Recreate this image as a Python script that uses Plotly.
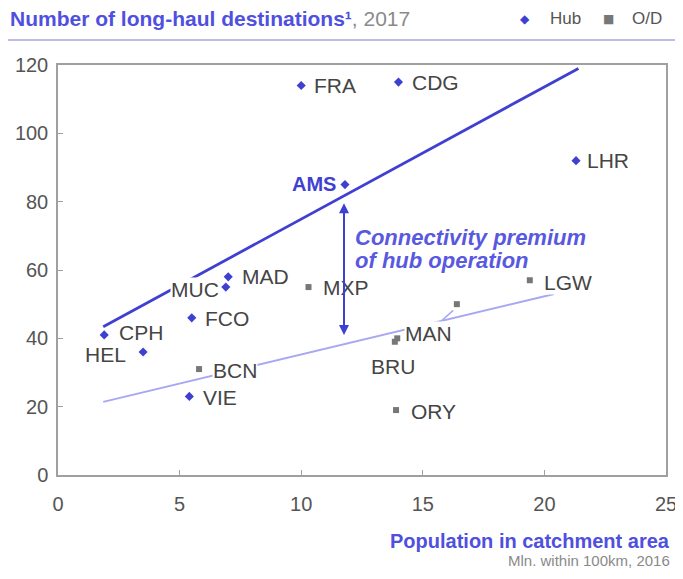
import plotly.graph_objects as go

# ---- data ----
hub_names = ["FRA", "CDG", "LHR", "AMS", "MAD", "MUC", "FCO", "CPH", "HEL", "VIE"]
hub_x = [10.0, 14.0, 21.3, 11.8, 7.0, 6.9, 5.5, 1.9, 3.5, 5.4]
hub_y = [114, 115, 92, 85, 58, 55, 46, 41, 36, 23]

od_names = ["MXP", "BCN", "MAN", "BRU", "", "LGW", "ORY"]
od_x = [10.3, 5.8, 13.95, 13.85, 16.4, 19.4, 13.9]
od_y = [55, 31, 40, 39, 50, 57, 19]

hub_trend_x = [1.86, 21.4]
hub_trend_y = [43.4, 119]
od_trend_x = [1.86, 20.4]
od_trend_y = [21.4, 53]

premium_x = 11.76
premium_top = 80
premium_bottom = 41

legend_labels = ["Hub", "O/D"]

BLUE = "#3f3fd2"
LIGHT = "#a8a8f2"
GRAY_PT = "#777777"
TXT = "#454545"
FONT = "Liberation Sans, Arial, sans-serif"

# page has an 8px body margin; work in page pixels
OFF = 8
PL, PR, PT, PB = 58, 666, 65, 475           # plot area in page pixels
W, H = 683 - OFF, 579 - OFF
L, R, T, B = PL - OFF, PR - OFF, PT - OFF, PB - OFF

def px(xp):
    return (xp - PL) / (PR - PL)

def py(yp):
    return (PB - yp) / (PB - PT)

fig = go.Figure()

fig.add_trace(go.Scatter(x=hub_trend_x, y=hub_trend_y, mode="lines",
                         line=dict(color=BLUE, width=2.8), showlegend=False, hoverinfo="skip"))
fig.add_trace(go.Scatter(x=od_trend_x, y=od_trend_y, mode="lines",
                         line=dict(color=LIGHT, width=2), showlegend=False, hoverinfo="skip"))

fig.add_trace(go.Scatter(x=hub_x, y=hub_y, mode="markers", name=legend_labels[0],
                         marker=dict(symbol="diamond", size=7, color=BLUE)))
fig.add_trace(go.Scatter(x=od_x, y=od_y, mode="markers", name=legend_labels[1],
                         marker=dict(symbol="square", size=6, color=GRAY_PT)))

# leader for the unlabeled O/D point
fig.add_shape(type="line", x0=15.78, y0=45.2, x1=16.25, y1=48.2,
              line=dict(color=LIGHT, width=1.5))

label_spec = {
    "FRA": ("left", 12, 0),
    "CDG": ("left", 13, 0),
    "LHR": ("left", 10, 0),
    "AMS": ("right", -8, 1),
    "MAD": ("left", 13, 0),
    "MUC": ("right", -6, -2),
    "FCO": ("left", 12, -1),
    "CPH": ("left", 14, 2),
    "HEL": ("right", -16, -2),
    "VIE": ("left", 13, -1),
    "MXP": ("left", 13, 0),
    "BCN": ("left", 13, -1),
    "MAN": ("left", 7, 5),
    "BRU": ("center", -2, -25),
    "LGW": ("left", 13, -2),
    "ORY": ("left", 14, -1),
}
for names, xs, ys in [(hub_names, hub_x, hub_y), (od_names, od_x, od_y)]:
    for n, xv, yv in zip(names, xs, ys):
        if not n:
            continue
        xa, xs_, ys_ = label_spec[n]
        is_ams = n == "AMS"
        fig.add_annotation(
            x=xv, y=yv, text=(f"<b>{n}</b>" if is_ams else n), showarrow=False,
            xanchor=xa, yanchor="middle", xshift=xs_, yshift=ys_,
            font=dict(family=FONT, size=(20 if is_ams else 21), color=(BLUE if is_ams else TXT)),
            bgcolor=(None if is_ams else "white"), borderpad=0,
        )

# premium arrow
fig.add_annotation(x=premium_x, y=premium_bottom, ax=premium_x, ay=premium_top,
                   xref="x", yref="y", axref="x", ayref="y", text="",
                   showarrow=True, arrowhead=2, arrowside="end+start", arrowsize=1,
                   arrowwidth=2, arrowcolor=BLUE)
for txt, yp in [("Connectivity premium", 237), ("of hub operation", 260)]:
    fig.add_annotation(x=px(353), y=py(yp), xref="paper", yref="paper",
                       text=f"<b><i>{txt}</i></b>",
                       showarrow=False, xanchor="left", yanchor="middle",
                       font=dict(family=FONT, size=22, color="#5858e0"))

# title
fig.add_annotation(x=px(8), y=py(19), xref="paper", yref="paper",
                   text="<b>Number of long-haul destinations\u00b9</b><span style='color:#8a8a8a'>, 2017</span>",
                   showarrow=False, xanchor="left", yanchor="middle",
                   font=dict(family=FONT, size=21, color="#4f4fe0"))
fig.add_shape(type="line", xref="paper", yref="paper", x0=px(8), x1=px(683),
              y0=py(40), y1=py(40), line=dict(color="#a6a6dc", width=1.5))

# legend (drawn as annotations so margins stay fixed)
for sym, col, sx, lab, lx in [("\u25c6", BLUE, 525, legend_labels[0], 548),
                              ("\u25a0", GRAY_PT, 608, legend_labels[1], 630)]:
    fig.add_annotation(x=px(sx), y=py(19), xref="paper", yref="paper", text=sym,
                       showarrow=False, xanchor="center", yanchor="middle",
                       font=dict(family="DejaVu Sans, sans-serif", size=12, color=col))
    fig.add_annotation(x=px(lx), y=py(19), xref="paper", yref="paper", text=lab,
                       showarrow=False, xanchor="left", yanchor="middle",
                       font=dict(family=FONT, size=17, color="#555555"))

# x axis title
fig.add_annotation(x=px(671), y=py(553), xref="paper", yref="paper",
                   text="<b>Population in catchment area</b>", showarrow=False,
                   xanchor="right", yanchor="bottom", borderpad=0,
                   font=dict(family=FONT, size=20, color="#4f4fe0"))
fig.add_annotation(x=px(671), y=py(551), xref="paper", yref="paper",
                   text="Mln. within 100km, 2016", showarrow=False,
                   xanchor="right", yanchor="top", borderpad=0,
                   font=dict(family=FONT, size=15, color="#8a8a8a"))

axis_common = dict(showline=True, mirror=True, linecolor="#a0a0a0", linewidth=1.5,
                   showgrid=False, zeroline=False, ticks="inside", ticklen=5,
                   tickcolor="#a0a0a0", automargin=False,
                   tickfont=dict(family=FONT, size=20, color="#555555"))
fig.update_xaxes(range=[0, 25], dtick=5, tick0=0, ticklabelstandoff=10, **axis_common)
fig.update_yaxes(range=[0, 120], dtick=20, tick0=0, ticklabelstandoff=4, **axis_common)

fig.update_layout(
    width=W, height=H,
    margin=dict(l=L, r=W - R, t=T, b=H - B, autoexpand=False),
    plot_bgcolor="white", paper_bgcolor="white",
    showlegend=False,
)

fig.write_html("out.html")
